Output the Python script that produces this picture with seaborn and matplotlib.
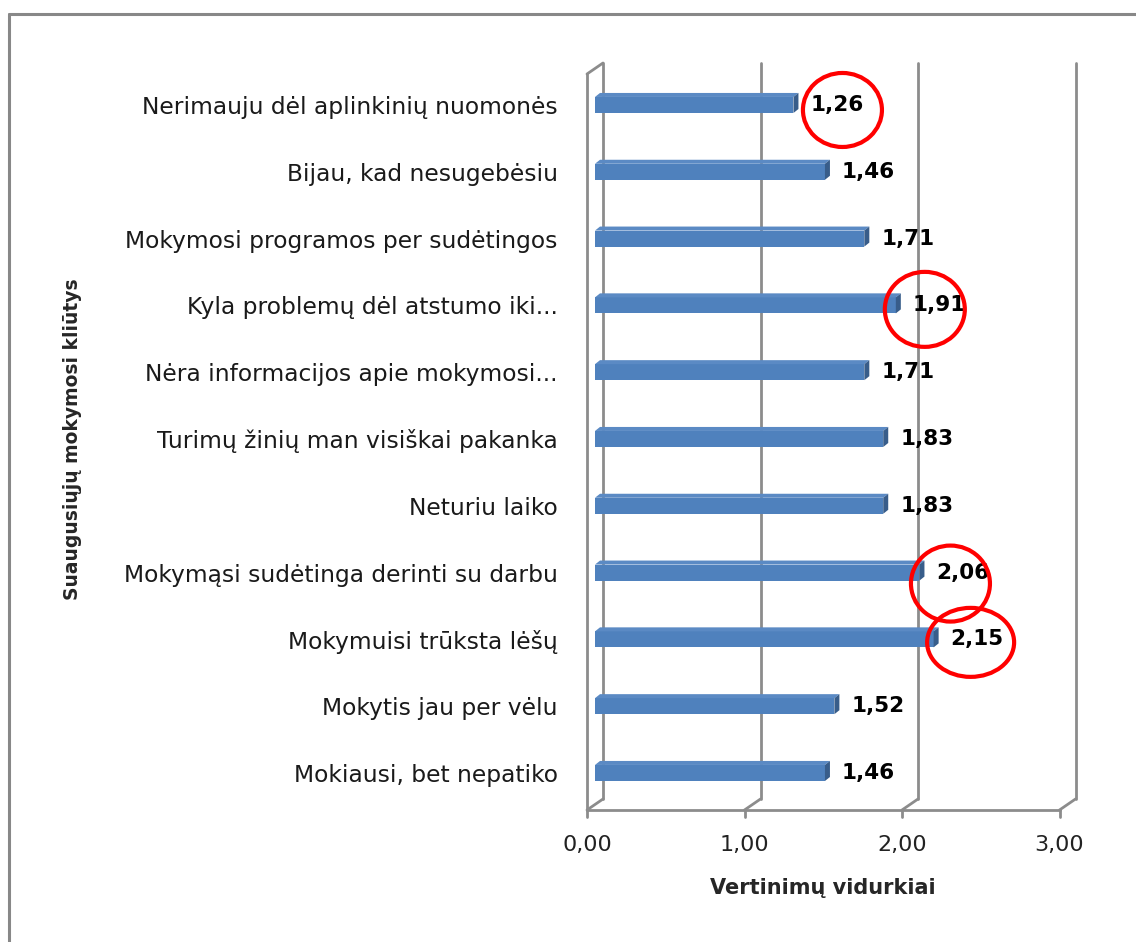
import matplotlib
matplotlib.use("Agg")
import matplotlib.pyplot as plt
import matplotlib.transforms as mtransforms
from matplotlib.patches import Polygon, Ellipse
from matplotlib.lines import Line2D
import seaborn as sns
import pandas as pd

# data
categories = [
    "Nerimauju dėl aplinkinių nuomonės",
    "Bijau, kad nesugebėsiu",
    "Mokymosi programos per sudėtingos",
    "Kyla problemų dėl atstumo iki...",
    "Nėra informacijos apie mokymosi...",
    "Turimų žinių man visiškai pakanka",
    "Neturiu laiko",
    "Mokymąsi sudėtinga derinti su darbu",
    "Mokymuisi trūksta lėšų",
    "Mokytis jau per vėlu",
    "Mokiausi, bet nepatiko",
]
values = [1.26, 1.46, 1.71, 1.91, 1.71, 1.83, 1.83, 2.06, 2.15, 1.52, 1.46]
x_ticks = [0, 1, 2, 3]
highlighted = ["Nerimauju dėl aplinkinių nuomonės", "Kyla problemų dėl atstumo iki...",
               "Mokymąsi sudėtinga derinti su darbu", "Mokymuisi trūksta lėšų"]
x_label = "Vertinimų vidurkiai"
y_label = "Suaugusiųjų mokymosi kliūtys"

df = pd.DataFrame({"category": categories, "value": values})

# styling
W, H = 1136, 942
FONT = ["DejaVu Sans"]
BAR = "#4F81BD"
BAR_TOP = "#5B8AC4"
BAR_SIDE = "#385D8A"
GRID = "#8C8C8C"
DEPTH_X, DEPTH_Y = 8, 5.5        # half depth of the 3D walls, px
BAR_DX, BAR_DY = 5, 4            # bar depth, px
# hand-drawn circle offsets from bar end (px right, px down) and size (px)
circle_style = [(49, 5, 79, 74), (29, 4, 80, 75), (31, 11, 79, 76), (37, 3, 87, 69)]

sns.set_theme(style="white")
plt.rcParams["font.family"] = FONT

fig = plt.figure(figsize=(W / 100, H / 100), dpi=100)
ax = fig.add_axes([595 / W, 1 - 804.5 / H, 472.5 / W, 736 / H])

sns.barplot(data=df, x="value", y="category", color=BAR, width=0.24,
            saturation=1, ax=ax, edgecolor="none", zorder=2)
ax.set_xlim(0, 3)
ax.set_ylim(10.472, -0.546)
for s in ax.spines.values():
    s.set_visible(False)
ax.set_xlabel("")
ax.set_ylabel("")
ax.grid(False)

to_px = ax.transData.transform
ident = mtransforms.IdentityTransform()


def px_line(xs, ys, **kw):
    ax.add_line(Line2D(xs, ys, transform=ident, clip_on=False, color=GRID, lw=2,
                       zorder=0.5, **kw))


# 3D walls: back gridlines, floor diagonals, front baseline, left wall
y_top, y_bot = ax.get_ylim()[1], ax.get_ylim()[0]
for t in x_ticks:
    bx, by_top = to_px((t, y_top))
    _, by_bot = to_px((t, y_bot))
    px_line([bx + DEPTH_X, bx + DEPTH_X], [by_top + DEPTH_Y, by_bot + DEPTH_Y])
    px_line([bx + DEPTH_X, bx - DEPTH_X], [by_bot + DEPTH_Y, by_bot - DEPTH_Y])
    px_line([bx - DEPTH_X, bx - DEPTH_X], [by_bot - DEPTH_Y, by_bot - DEPTH_Y - 7])
x0_px, ytop_px = to_px((x_ticks[0], y_top))
x3_px, ybot_px = to_px((x_ticks[-1], y_bot))
px_line([x0_px - DEPTH_X, x3_px - DEPTH_X], [ybot_px - DEPTH_Y] * 2)
px_line([x0_px - DEPTH_X, x0_px - DEPTH_X], [ytop_px - DEPTH_Y, ybot_px - DEPTH_Y])
px_line([x0_px - DEPTH_X, x0_px + DEPTH_X], [ytop_px - DEPTH_Y, ytop_px + DEPTH_Y])

# 3D faces on each bar + value labels
for bar, v in zip(ax.patches, values):
    l, b = to_px((bar.get_x(), bar.get_y() + bar.get_height()))
    r, t = to_px((bar.get_x() + bar.get_width(), bar.get_y()))
    ax.add_patch(Polygon([(l, t), (r, t), (r + BAR_DX, t + BAR_DY), (l + BAR_DX, t + BAR_DY)],
                         closed=True, transform=ident, facecolor=BAR_TOP, clip_on=False,
                         edgecolor="none", zorder=3))
    ax.add_patch(Polygon([(r, b), (r, t), (r + BAR_DX, t + BAR_DY), (r + BAR_DX, b + BAR_DY)],
                         closed=True, transform=ident, facecolor=BAR_SIDE, clip_on=False,
                         edgecolor="none", zorder=3))
    cy = (b + t) / 2
    fig.text((r + BAR_DX + 12) / W, cy / H, f"{v:.2f}".replace(".", ","),
             ha="left", va="center", fontsize=15.5, fontweight="bold", color="black")

# red hand-drawn circles
for name, (dx, dy, w, h) in zip(highlighted, circle_style):
    i = categories.index(name)
    ex, ey = to_px((values[i], i))
    fig.add_artist(Ellipse((ex + dx, ey - dy), w, h, transform=ident, fill=False,
                           edgecolor="red", lw=3, zorder=5))

# ticks
ax.set_xticks(x_ticks)
ax.set_xticklabels([f"{t:.2f}".replace(".", ",") for t in x_ticks], fontsize=16, color="#222222")
ax.tick_params(axis="x", length=0, pad=22)
for lab in ax.get_xticklabels():
    lab.set_transform(lab.get_transform() + mtransforms.ScaledTranslation(-0.08, 0, fig.dpi_scale_trans))
ax.tick_params(axis="y", length=0, pad=27, labelsize=16.8, labelcolor="#1a1a1a")

fig.text(823 / W, 1 - 888 / H, x_label, ha="center", va="center", fontsize=15, fontweight="bold")
fig.text(73 / W, 1 - 439 / H, y_label, ha="center", va="center", rotation=90,
         fontsize=13.5, fontweight="bold")

# outer chart frame (right and bottom edges fall outside the image)
fig.add_artist(Line2D([9 / W, 9 / W], [0, 1 - 14 / H], transform=fig.transFigure, color="#888888", lw=2.2))
fig.add_artist(Line2D([9 / W, 1], [1 - 14 / H, 1 - 14 / H], transform=fig.transFigure, color="#888888", lw=2.2))

fig.savefig("out.png", dpi=100)
